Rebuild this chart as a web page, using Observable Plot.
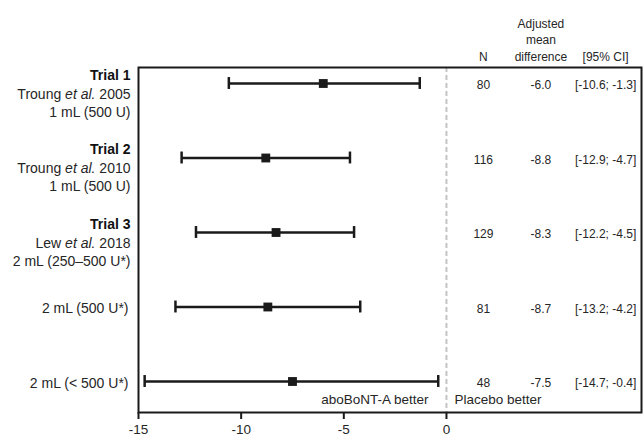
<!DOCTYPE html>
<html>
<head>
<meta charset="utf-8">
<script src="https://cdn.jsdelivr.net/npm/d3@7"></script>
<script src="https://cdn.jsdelivr.net/npm/@observablehq/plot@0.6"></script>
<style>
  html, body { margin: 0; padding: 0; background: #fff; }
  svg { display: block; }
</style>
</head>
<body>
<div id="chart"></div>
<script>
// ---- data ----
const labelTitle = ["Trial 1", "Trial 2", "Trial 3", "", ""];
const labelStudy = ["Troung et al. 2005", "Troung et al. 2010", "Lew et al. 2018", "", ""];
const labelDose = ["1 mL (500 U)", "1 mL (500 U)", "2 mL (250–500 U*)", "2 mL (500 U*)", "2 mL (< 500 U*)"];
const nValues = [80, 116, 129, 81, 48];
const meanDiff = [-6.0, -8.8, -8.3, -8.7, -7.5];
const ciLow = [-10.6, -12.9, -12.2, -13.2, -14.7];
const ciHigh = [-1.3, -4.7, -4.5, -4.2, -0.4];
const xTicks = [-15, -10, -5, 0];
const headers = ["N", "Adjusted\nmean\ndifference", "[95% CI]"];

const rows = labelDose.map((d, i) => ({
  i,
  title: labelTitle[i],
  study: labelStudy[i],
  dose: d,
  n: nValues[i],
  mean: meanDiff[i],
  lo: ciLow[i],
  hi: ciHigh[i],
  meanText: meanDiff[i].toFixed(1),
  ciText: `[${ciLow[i].toFixed(1)}; ${ciHigh[i].toFixed(1)}]`
}));

// table column positions (in x-axis units, to the right of zero)
const colX = {n: 1.8, mean: 4.6, ci: 7.75};
const headerCols = [colX.n, colX.mean, colX.ci];

const ink = "#1a1a1a";
const textInk = "#262626";
const capHalf = 0.08;

const trialRows = rows.filter(d => d.title !== "");
const subRows = rows.filter(d => d.title === "");

const chart = Plot.plot({
  width: 643,
  height: 436,
  marginLeft: 138,
  marginRight: 2,
  marginTop: 67,
  marginBottom: 24,
  style: {fontFamily: "'Liberation Sans', Arial, Helvetica, sans-serif", fontSize: "13px", color: textInk, background: "#fff"},
  x: {domain: [-15, 9.5]},
  y: {domain: [0, 4], range: [83, 381], axis: null},
  marks: [
    Plot.ruleX([0], {stroke: "#c4c4c4", strokeWidth: 2, strokeDasharray: "5,3"}),
    Plot.frame({stroke: ink, strokeWidth: 2}),
    Plot.axisX({
      ticks: xTicks,
      tickSize: 7,
      tickPadding: 5,
      strokeWidth: 2,
      stroke: ink,
      fontSize: 13.5,
      fill: textInk,
      tickFormat: d => String(d),
      label: null
    }),
    // CI lines
    Plot.ruleY(rows, {y: "i", x1: "lo", x2: "hi", stroke: ink, strokeWidth: 2.5}),
    // caps
    Plot.ruleX(rows, {x: "lo", y1: d => d.i - capHalf, y2: d => d.i + capHalf, stroke: ink, strokeWidth: 2.5}),
    Plot.ruleX(rows, {x: "hi", y1: d => d.i - capHalf, y2: d => d.i + capHalf, stroke: ink, strokeWidth: 2.5}),
    // point estimate
    Plot.dot(rows, {x: "mean", y: "i", symbol: "square", r: 5, fill: ink, stroke: null}),
    // left labels
    Plot.text(trialRows, {x: () => -15, y: "i", text: "title", textAnchor: "end", dx: -8, dy: -8, fontWeight: "bold", fontSize: 14, fill: "#111"}),
    Plot.text(trialRows, {x: () => -15, y: "i", text: "study", textAnchor: "end", dx: -8, dy: 11, fontSize: 14, fill: textInk}),
    Plot.text(trialRows, {x: () => -15, y: "i", text: "dose", textAnchor: "end", dx: -8, dy: 29, fontSize: 14, fill: textInk}),
    Plot.text(subRows, {x: () => -15, y: "i", text: "dose", textAnchor: "end", dx: -10, dy: 2, fontSize: 14, fill: textInk}),
    // table
    Plot.text(rows, {x: () => colX.n, y: "i", text: d => String(d.n), dy: 2, fontSize: 12, fill: textInk}),
    Plot.text(rows, {x: () => colX.mean, y: "i", text: "meanText", dy: 2, fontSize: 12, fill: textInk}),
    Plot.text(rows, {x: () => colX.ci, y: "i", text: "ciText", dy: 2, fontSize: 12, fill: textInk}),
    // headers
    Plot.text(headers, {x: (d, i) => headerCols[i], text: d => d, frameAnchor: "top", lineAnchor: "bottom", dy: -7, lineHeight: 1.375, fontSize: 12, fill: textInk}),
    // direction labels
    Plot.text(["aboBoNT-A better"], {x: () => 0, text: d => d, frameAnchor: "bottom", textAnchor: "end", dx: -18, dy: -9, fontSize: 13.5, fill: textInk}),
    Plot.text(["Placebo better"], {x: () => 0, text: d => d, frameAnchor: "bottom", textAnchor: "start", dx: 8, dy: -9, fontSize: 13.5, fill: textInk})
  ]
});

// italicise "et al."
d3.select(chart).selectAll("text").each(function() {
  const t = this.textContent;
  if (t.includes("et al.") && this.children.length === 0) {
    const [a, b] = t.split("et al.");
    const el = d3.select(this);
    el.text(null);
    el.append("tspan").text(a);
    el.append("tspan").attr("font-style", "italic").text("et al.");
    el.append("tspan").text(b);
  }
});

document.getElementById("chart").appendChild(chart);
</script>
</body>
</html>
